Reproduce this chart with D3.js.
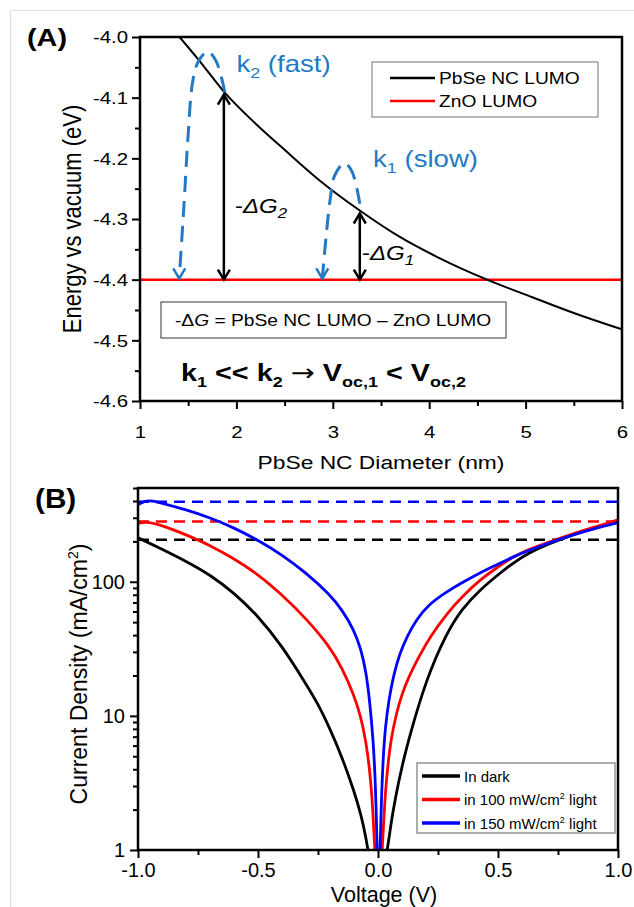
<!DOCTYPE html>
<html>
<head>
<meta charset="utf-8">
<script src="https://cdn.jsdelivr.net/npm/d3@7"></script>
<style>
body { margin: 0; background: #fff; }
svg text { font-family: "Liberation Sans", Arial, sans-serif; fill: #000; }
</style>
</head>
<body>
<svg id="fig"></svg>
<script>
// ---- panel A : LUMO vs diameter ----
var diameterNm = [1.41, 1.60, 1.87, 2.20, 2.50, 2.86, 3.28, 3.70, 4.10, 4.60, 5.07, 5.50, 6.00];
var pbseLumo   = [-4.000, -4.036, -4.090, -4.143, -4.186, -4.236, -4.286, -4.330, -4.364, -4.400, -4.429, -4.455, -4.482];
var znoLumo = -4.4;
var aXTicks = [1, 2, 3, 4, 5, 6];
var aYTicks = [-4.6, -4.5, -4.4, -4.3, -4.2, -4.1, -4.0];
var transferD = [1.87, 3.28];            // where the -dG arrows sit
// dashed "rate" loops, [diameter, energy], drawn from the curve down to ZnO
var k2Arc = [[1.88, -4.091], [1.79, -4.040], [1.70, -4.024], [1.60, -4.042], [1.545, -4.075], [1.50, -4.16], [1.455, -4.28], [1.407, -4.398]];
var k1Arc = [[3.28, -4.275], [3.20, -4.222], [3.12, -4.208], [3.02, -4.228], [2.975, -4.265], [2.93, -4.33], [2.891, -4.398]];

// ---- panel B : J-V curves (log) ----
var darkV = [-1.0, -0.9, -0.8, -0.7, -0.6, -0.5, -0.4, -0.3, -0.25, -0.2, -0.15, -0.1, -0.07, -0.05, -0.042, -0.004,
	0.04, 0.053, 0.072, 0.10, 0.133, 0.2, 0.286, 0.35, 0.425, 0.5, 0.564, 0.63, 0.703, 0.8, 0.9, 1.0];
var darkJ = [213, 174.8, 142.2, 112.8, 82.8, 55.7, 33.3, 17.3, 12.3, 8.0, 4.94, 2.76, 1.82, 1.23, 1.0, 0.4,
	1.0, 1.54, 2.44, 4.24, 7.21, 18.6, 41.6, 62.9, 87.1, 112.8, 138.6, 164.5, 188.9, 220.4, 253, 285];
var light100V = [-1.0, -0.97, -0.9, -0.8, -0.7, -0.6, -0.5, -0.4, -0.3, -0.2, -0.15, -0.1, -0.07, -0.05, -0.035, -0.025, -0.018, -0.014, 0.003,
	0.018, 0.024, 0.031, 0.041, 0.055, 0.078, 0.10, 0.13, 0.17, 0.217, 0.286, 0.35, 0.425, 0.5, 0.564, 0.63, 0.703, 0.8, 0.9, 1.0];
var light100J = [271, 282.8, 264, 224.3, 187.2, 148.5, 113.8, 80, 53.4, 32.7, 22.8, 14.35, 9.66, 6.4, 4.0, 2.5, 1.5, 1.0, 0.4,
	1.0, 1.675, 2.71, 4.31, 6.85, 10.7, 14.6, 19.9, 27.6, 38.9, 57.7, 77.3, 103.5, 129.4, 153.7, 174.8, 195.4, 224.3, 255, 290];
var light150V = [-1.0, -0.97, -0.94, -0.9, -0.8, -0.7, -0.6, -0.5, -0.4, -0.3, -0.2, -0.15, -0.1, -0.07, -0.05, -0.035, -0.02, -0.01, -0.004, 0.0025,
	0.009, 0.014, 0.021, 0.03, 0.045, 0.065, 0.09, 0.12, 0.16, 0.21, 0.286, 0.35, 0.425, 0.5, 0.564, 0.63, 0.703, 0.8, 0.9, 1.0];
var light150J = [375.5, 402.2, 402, 385.3, 344.5, 300.4, 252.9, 204, 159, 116.7, 80, 61.8, 43.8, 31.1, 21.3, 13.16, 6.62, 3.06, 1.0, 0.5,
	1.0, 2.36, 4.69, 8.14, 13.16, 20.2, 29.0, 38.9, 52.1, 67.4, 84.2, 98.3, 116.7, 135.1, 153.7, 171.8, 192.1, 220.4, 248.6, 275.5];
var jscLevels = [206, 281, 395];       // dashed saturation lines: dark, 100, 150
var seriesNames = ["In dark", "in 100 mW/cm", "in 150 mW/cm"];
var seriesColors = ["#000000", "#ff0000", "#0000ff"];
var bXTicks = [-1, -0.5, 0, 0.5, 1];
var bXMinor = [-0.75, -0.25, 0.25, 0.75];
var bYTicks = [1, 10, 100];

var svg = d3.select("#fig").attr("width", 634).attr("height", 907);
svg.append("rect").attr("width", 634).attr("height", 907).attr("fill", "#fff");
svg.append("rect").attr("x", 10.5).attr("y", 10.5).attr("width", 700).attr("height", 1000)
	.attr("fill", "none").attr("stroke", "#dedede");

var sx = 1.2; // panel A artwork is stretched sideways

function stext(x, y, size, anchor)
{
	return svg.append("text")
		.attr("transform", "translate(" + x + "," + y + ") scale(" + sx + ",1)")
		.attr("font-size", size)
		.attr("text-anchor", anchor || "start");
}

function styleAxis(g, w)
{
	g.select(".domain").remove();
	g.selectAll("line").attr("stroke", "#000").attr("stroke-width", w);
	g.attr("font-family", null).attr("font-size", null);
}

// ================= panel A =================
var xA = d3.scaleLinear().domain([1, 6]).range([140, 622]);
var yA = d3.scaleLinear().domain([-4.6, -4.0]).range([401, 37]);

var yMinorA = d3.range(-4.55, -4.0, 0.1);
var xMinorA = d3.range(1.5, 6, 1);

svg.append("g").attr("transform", "translate(140,0)")
	.call(d3.axisLeft(yA).tickValues(yMinorA).tickSize(5).tickFormat(""))
	.call(styleAxis, 2);
svg.append("g").attr("transform", "translate(0,401)")
	.call(d3.axisBottom(xA).tickValues(xMinorA).tickSize(5).tickFormat(""))
	.call(styleAxis, 2);

var yAxA = svg.append("g").attr("transform", "translate(140,0)")
	.call(d3.axisLeft(yA).tickValues(aYTicks).tickSize(8).tickFormat(function(d){ return d.toFixed(1); }))
	.call(styleAxis, 2);
yAxA.selectAll("text").attr("x", -10).attr("dy", "0.35em").attr("font-size", 17)
	.attr("transform", "scale(" + sx + ",1)");

var xAxA = svg.append("g").attr("transform", "translate(0,401)")
	.call(d3.axisBottom(xA).tickValues(aXTicks).tickSize(8).tickFormat(d3.format("d")))
	.call(styleAxis, 2);
xAxA.selectAll("text").attr("y", 37).attr("dy", 0).attr("font-size", 17)
	.attr("transform", "scale(" + sx + ",1)");

// ZnO line then PbSe curve
svg.append("defs").append("clipPath").attr("id", "clipA")
	.append("rect").attr("x", 140).attr("y", 37).attr("width", 482).attr("height", 364);

svg.append("line")
	.attr("x1", xA(1)).attr("x2", xA(6)).attr("y1", yA(znoLumo)).attr("y2", yA(znoLumo))
	.attr("stroke", "#ff0000").attr("stroke-width", 2.5);

var lumo = diameterNm.map(function(d, i){ return [d, pbseLumo[i]]; });
svg.append("path").datum(lumo)
	.attr("clip-path", "url(#clipA)")
	.attr("fill", "none").attr("stroke", "#000").attr("stroke-width", 2)
	.attr("d", d3.line().x(function(d){ return xA(d[0]); }).y(function(d){ return yA(d[1]); }).curve(d3.curveMonotoneX));

svg.append("rect").attr("x", 140).attr("y", 37).attr("width", 482).attr("height", 364)
	.attr("fill", "none").attr("stroke", "#000").attr("stroke-width", 2.5);

// dashed blue loops
var arcLine = d3.line().x(function(d){ return xA(d[0]); }).y(function(d){ return yA(d[1]); })
	.curve(d3.curveCatmullRom.alpha(0.5));
[k2Arc, k1Arc].forEach(function(arc){
	svg.append("path").datum(arc)
		.attr("fill", "none").attr("stroke", "#2479c4").attr("stroke-width", 3)
		.attr("stroke-dasharray", "16,9").attr("d", arcLine);
	var end = arc[arc.length - 1];
	var ex = xA(end[0]), ey = yA(end[1]);
	svg.append("path")
		.attr("d", "M" + (ex - 6) + "," + (ey - 10) + "L" + ex + "," + ey + "L" + (ex + 6) + "," + (ey - 10))
		.attr("fill", "none").attr("stroke", "#2479c4").attr("stroke-width", 2.5);
});

// -dG double arrows
var lumoAt = d3.scaleLinear().domain(diameterNm).range(pbseLumo);
transferD.forEach(function(d){
	var x = xA(d), yt = yA(lumoAt(d)) + 3, yb = yA(znoLumo);
	svg.append("line").attr("x1", x).attr("x2", x).attr("y1", yt).attr("y2", yb)
		.attr("stroke", "#000").attr("stroke-width", 2.5);
	svg.append("path")
		.attr("d", "M" + (x - 6) + "," + (yt + 10) + "L" + x + "," + yt + "L" + (x + 6) + "," + (yt + 10) +
			"M" + (x - 6) + "," + (yb - 10) + "L" + x + "," + yb + "L" + (x + 6) + "," + (yb - 10))
		.attr("fill", "none").attr("stroke", "#000").attr("stroke-width", 2.5);
});

// annotations
var t = stext(xA(2.0), yA(-4.058), 23).style("fill", "#2479c4");
t.append("tspan").text("k");
t.append("tspan").attr("dy", 6).attr("font-size", 15).text("2");
t.append("tspan").attr("dy", -6).text(" (fast)");

t = stext(xA(3.417), yA(-4.214), 23).style("fill", "#2479c4");
t.append("tspan").text("k");
t.append("tspan").attr("dy", 6).attr("font-size", 15).text("1");
t.append("tspan").attr("dy", -6).text(" (slow)");

t = stext(xA(1.985), yA(-4.290), 20);
t.append("tspan").text("-");
t.append("tspan").attr("font-style", "italic").text("ΔG");
t.append("tspan").attr("dy", 5).attr("font-size", 14).attr("font-style", "italic").text("2");

t = stext(xA(3.303), yA(-4.3676), 20);
t.append("tspan").text("-");
t.append("tspan").attr("font-style", "italic").text("ΔG");
t.append("tspan").attr("dy", 5).attr("font-size", 14).attr("font-style", "italic").text("1");

// legend A
svg.append("rect").attr("x", 372).attr("y", 62).attr("width", 226).attr("height", 55)
	.attr("fill", "#fff").attr("stroke", "#8a8a8a").attr("stroke-width", 1.2);
[["PbSe NC LUMO", "#000", 78], ["ZnO LUMO", "#ff0000", 101]].forEach(function(e){
	svg.append("line").attr("x1", 390).attr("x2", 435).attr("y1", e[2]).attr("y2", e[2])
		.attr("stroke", e[1]).attr("stroke-width", 2.5);
	stext(439, e[2] + 6, 16).text(e[0]);
});

// definition box
svg.append("rect").attr("x", 161).attr("y", 302).attr("width", 345).attr("height", 36)
	.attr("fill", "#fff").attr("stroke", "#555").attr("stroke-width", 1.2);
t = stext(333, 326, 16, "middle");
t.append("tspan").text("-Δ");
t.append("tspan").attr("font-style", "italic").text("G");
t.append("tspan").text(" = PbSe NC LUMO – ZnO LUMO");

// bold relation
t = stext(181, 381, 24).attr("font-weight", "bold");
t.append("tspan").text("k");
t.append("tspan").attr("dy", 6).attr("font-size", 15).text("1");
t.append("tspan").attr("dy", -6).text(" << k");
t.append("tspan").attr("dy", 6).attr("font-size", 15).text("2");
t.append("tspan").attr("dy", -6).text(" ");
t.append("tspan").attr("font-family", "DejaVu Sans").attr("font-weight", "normal").text("→");
t.append("tspan").text(" V");
t.append("tspan").attr("dy", 6).attr("font-size", 15).text("oc,1");
t.append("tspan").attr("dy", -6).text(" < V");
t.append("tspan").attr("dy", 6).attr("font-size", 15).text("oc,2");

// titles A
stext(27, 46, 24).attr("font-weight", "bold").text("(A)");
stext(381, 469, 19, "middle").text("PbSe NC Diameter (nm)");
svg.append("text")
	.attr("transform", "translate(81,219) scale(" + sx + ",1) rotate(-90)")
	.attr("text-anchor", "middle").attr("font-size", 22)
	.text("Energy vs vacuum (eV)");

// ================= panel B =================
var xB = d3.scaleLinear().domain([-1, 1]).range([138, 618]);
var yB = d3.scaleLog().domain([1, 500]).range([850, 488]);

var yMinorB = [];
[1, 10, 100].forEach(function(dec){
	for (var m = 2; m <= 9; m++) { if (dec * m <= 500) yMinorB.push(dec * m); }
});

svg.append("g").attr("transform", "translate(138,0)")
	.call(d3.axisLeft(yB).tickValues(yMinorB).tickSize(5).tickFormat(""))
	.call(styleAxis, 2);
svg.append("g").attr("transform", "translate(0,850)")
	.call(d3.axisBottom(xB).tickValues(bXMinor).tickSize(5).tickFormat(""))
	.call(styleAxis, 2);

var yAxB = svg.append("g").attr("transform", "translate(138,0)")
	.call(d3.axisLeft(yB).tickValues(bYTicks).tickSize(8).tickPadding(5).tickFormat(function(d){ return String(d); }))
	.call(styleAxis, 2);
yAxB.selectAll("text").attr("font-size", 20);

var xAxB = svg.append("g").attr("transform", "translate(0,850)")
	.call(d3.axisBottom(xB).tickValues(bXTicks).tickSize(8).tickFormat(function(d){ return d.toFixed(1); }))
	.call(styleAxis, 2);
xAxB.selectAll("text").attr("y", 27).attr("dy", 0).attr("font-size", 20);

svg.select("defs").append("clipPath").attr("id", "clipB")
	.append("rect").attr("x", 138).attr("y", 488).attr("width", 480).attr("height", 362);

// dashed saturation levels
jscLevels.forEach(function(j, i){
	svg.append("line").attr("x1", xB(-1)).attr("x2", xB(1)).attr("y1", yB(j)).attr("y2", yB(j))
		.attr("stroke", seriesColors[i]).attr("stroke-width", 2.5).attr("stroke-dasharray", "11,7");
});

var jv = [[darkV, darkJ], [light100V, light100J], [light150V, light150J]];
var jvLine = d3.line().x(function(d){ return xB(d[0]); }).y(function(d){ return yB(d[1]); })
	.curve(d3.curveBasis);
jv.forEach(function(s, i){
	var pts = s[0].map(function(v, k){ return [v, s[1][k]]; });
	svg.append("path").datum(pts)
		.attr("clip-path", "url(#clipB)")
		.attr("fill", "none").attr("stroke", seriesColors[i]).attr("stroke-width", 2.8)
		.attr("stroke-linejoin", "round")
		.attr("d", jvLine);
});

svg.append("rect").attr("x", 138).attr("y", 488).attr("width", 480).attr("height", 362)
	.attr("fill", "none").attr("stroke", "#000").attr("stroke-width", 2.5);

// legend B
svg.append("rect").attr("x", 417).attr("y", 763).attr("width", 198).attr("height", 70)
	.attr("fill", "#fff").attr("stroke", "#777").attr("stroke-width", 1.2);
seriesNames.forEach(function(n, i){
	var y = 776 + i * 23.5;
	svg.append("line").attr("x1", 422).attr("x2", 460).attr("y1", y).attr("y2", y)
		.attr("stroke", seriesColors[i]).attr("stroke-width", 3.5);
	var lt = svg.append("text").attr("x", 464).attr("y", y + 5.5).attr("font-size", 15);
	lt.append("tspan").text(n);
	if (i > 0) {
		lt.append("tspan").attr("dy", -6).attr("font-size", 9).text("2");
		lt.append("tspan").attr("dy", 6).text(" light");
	}
});

// titles B
svg.append("text").attr("x", 35).attr("y", 508).attr("font-size", 27).attr("font-weight", "bold")
	.attr("transform", "translate(-3.5,0) scale(1.1,1)").text("(B)");
svg.append("text").attr("x", 384).attr("y", 902).attr("text-anchor", "middle").attr("font-size", 21.5)
	.text("Voltage (V)");
var yt = svg.append("text").attr("transform", "translate(87,674) rotate(-90)")
	.attr("text-anchor", "middle").attr("font-size", 23);
yt.append("tspan").text("Current Density (mA/cm");
yt.append("tspan").attr("dy", -9).attr("font-size", 14).text("2");
yt.append("tspan").attr("dy", 9).text(")");
</script>
</body>
</html>
